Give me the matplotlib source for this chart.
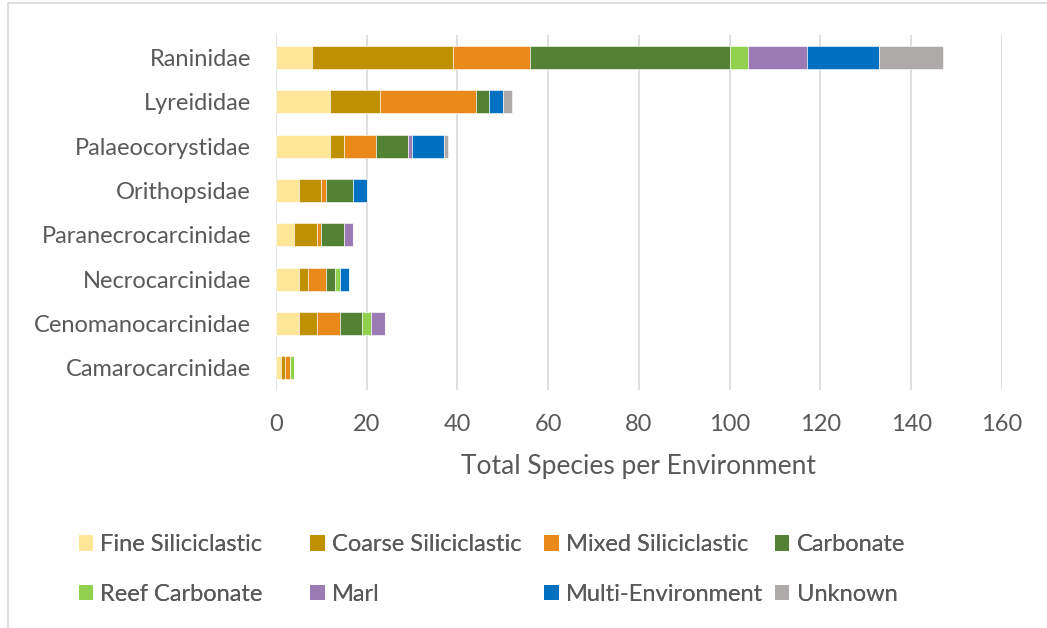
import matplotlib
matplotlib.use("Agg")
import numpy as np
import matplotlib.pyplot as plt
from matplotlib.patches import Patch
from matplotlib.lines import Line2D

families = ["Raninidae", "Lyreididae", "Palaeocorystidae", "Orithopsidae",
            "Paranecrocarcinidae", "Necrocarcinidae", "Cenomanocarcinidae",
            "Camarocarcinidae"]

environments = ["Fine Siliciclastic", "Coarse Siliciclastic", "Mixed Siliciclastic",
                "Carbonate", "Reef Carbonate", "Marl", "Multi-Environment", "Unknown"]

# species counts per family, one list per environment
fine_silic = [8, 12, 12, 5, 4, 5, 5, 1]
coarse_silic = [31, 11, 3, 5, 5, 2, 4, 1]
mixed_silic = [17, 21, 7, 1, 1, 4, 5, 1]
carbonate = [44, 3, 7, 6, 5, 2, 5, 0]
reef_carbonate = [4, 0, 0, 0, 0, 1, 2, 1]
marl = [13, 0, 1, 0, 2, 0, 3, 0]
multi_env = [16, 3, 7, 3, 0, 2, 0, 0]
unknown = [14, 2, 1, 0, 0, 0, 0, 0]

series = [fine_silic, coarse_silic, mixed_silic, carbonate,
          reef_carbonate, marl, multi_env, unknown]
colors = ["#FFE699", "#BF9000", "#E9891A", "#548235",
          "#92D050", "#9C7AB4", "#0070C0", "#AEAAAA"]

plt.rcParams["font.family"] = ["Lato", "DejaVu Sans"]
text_col = "#595959"

fig = plt.figure(figsize=(10.47, 6.28), dpi=100)
ax = fig.add_axes([0.2636, 0.379, 0.957 - 0.2636, 0.565])

y = np.arange(len(families))
left = np.zeros(len(families))
for vals, col, name in zip(series, colors, environments):
    ax.barh(y, vals, left=left, height=0.52, color=col, label=name,
            edgecolor="white", linewidth=0.4, zorder=3)
    left += np.array(vals)

ax.set_ylim(len(families) - 0.5, -0.5)
ax.set_xlim(0, 160)
ax.set_xticks(np.arange(0, 161, 20))
ax.set_yticks(y)
ax.set_yticklabels(families)
ax.tick_params(axis="both", length=0, labelsize=17, colors=text_col)
ax.tick_params(axis="x", pad=17)
ax.tick_params(axis="y", pad=18)
ax.xaxis.grid(True, color="#D9D9D9", linewidth=1.2, zorder=0)
for s in ax.spines.values():
    s.set_visible(False)
ax.set_xlabel("Total Species per Environment", fontsize=19, color=text_col, labelpad=14)

# legend: four columns of two entries each
handles = [Patch(facecolor=c) for c in colors]
col_x = [0.066, 0.287, 0.511, 0.731]
for i, x0 in enumerate(col_x):
    leg = fig.legend([handles[i], handles[i + 4]], [environments[i], environments[i + 4]],
                     loc="upper left", bbox_to_anchor=(x0, 0.164),
                     frameon=False, fontsize=17, handlelength=0.62, handleheight=0.62,
                     handletextpad=0.3, labelspacing=1.2, labelcolor=text_col,
                     borderaxespad=0)
    fig.add_artist(leg)

# thin frame along the top and left edges
fig.add_artist(Line2D([8 / 1047, 8 / 1047], [0, 1 - 3 / 628], color="#D9D9D9", lw=1.2))
fig.add_artist(Line2D([8 / 1047, 1], [1 - 3 / 628, 1 - 3 / 628], color="#D9D9D9", lw=1.2))

fig.savefig("out.png", dpi=100)
